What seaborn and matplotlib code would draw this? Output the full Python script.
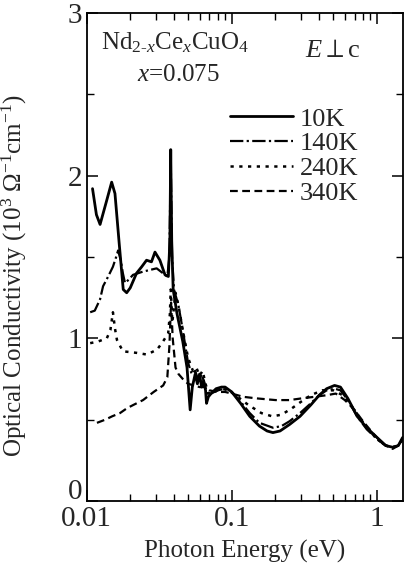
import matplotlib
matplotlib.use("Agg")
import matplotlib.pyplot as plt
import matplotlib.transforms as mtransforms
import seaborn as sns
import pandas as pd
from matplotlib.lines import Line2D
from matplotlib.ticker import FixedLocator, NullFormatter, LogLocator

# Optical conductivity spectra of Nd2-xCexCuO4 (x = 0.075), E perpendicular to c
e_10k = [0.0110, 0.0117, 0.0124, 0.0137, 0.0149, 0.0157, 0.0168, 0.0179, 0.0189, 0.0200,
         0.0221, 0.0240, 0.0259, 0.0280, 0.0296, 0.0320, 0.0347, 0.0366, 0.0375, 0.0380,
         0.0386, 0.0395, 0.0420, 0.0460, 0.0492, 0.0517, 0.0535, 0.0560, 0.0580, 0.0600,
         0.0620, 0.0640, 0.0660, 0.0670, 0.0690, 0.0720, 0.0780, 0.0850, 0.0900, 0.100,
         0.115, 0.133, 0.155, 0.175, 0.192, 0.215, 0.250, 0.295, 0.350, 0.400, 0.450,
         0.510, 0.560, 0.630, 0.730, 0.850, 1.00, 1.15, 1.28, 1.40, 1.50]
s_10k = [1.92, 1.76, 1.70, 1.84, 1.96, 1.89, 1.58, 1.30, 1.28, 1.31,
         1.40, 1.44, 1.48, 1.47, 1.53, 1.48, 1.39, 1.38, 1.60, 2.16,
         1.60, 1.30, 1.15, 0.98, 0.82, 0.56, 0.70, 0.78, 0.72, 0.78,
         0.70, 0.74, 0.68, 0.60, 0.64, 0.66, 0.69, 0.70, 0.70, 0.67,
         0.60, 0.52, 0.46, 0.43, 0.42, 0.43, 0.47, 0.52, 0.59, 0.65, 0.69,
         0.71, 0.70, 0.63, 0.52, 0.45, 0.39, 0.34, 0.33, 0.34, 0.39]

e_140k = [0.0106, 0.0114, 0.0124, 0.0130, 0.0141, 0.0152, 0.0160, 0.0165, 0.0172, 0.0178,
          0.0184, 0.0195, 0.0209, 0.0245, 0.0304, 0.0336, 0.0360, 0.0372, 0.0380, 0.0388,
          0.0400, 0.0430, 0.0460, 0.0500, 0.0530, 0.0560, 0.0590, 0.0620, 0.0650, 0.0680,
          0.0720, 0.0800, 0.0900, 0.100, 0.115, 0.133, 0.155, 0.192, 0.220, 0.250, 0.295,
          0.350, 0.400, 0.450, 0.510, 0.560, 0.630, 0.730, 0.850, 1.00, 1.15, 1.28, 1.40, 1.50]
s_140k = [1.16, 1.17, 1.24, 1.32, 1.38, 1.44, 1.50, 1.54, 1.48, 1.40,
          1.34, 1.36, 1.39, 1.41, 1.43, 1.40, 1.38, 1.50, 2.10, 1.50,
          1.30, 1.20, 1.05, 0.85, 0.78, 0.80, 0.74, 0.78, 0.72, 0.65,
          0.66, 0.68, 0.69, 0.67, 0.61, 0.54, 0.48, 0.45, 0.46, 0.49, 0.54,
          0.60, 0.65, 0.68, 0.69, 0.68, 0.62, 0.52, 0.44, 0.38, 0.34, 0.33, 0.34, 0.38]

e_240k = [0.0106, 0.0120, 0.0138, 0.0146, 0.0152, 0.0157, 0.0162, 0.0178, 0.0223, 0.0260,
          0.0306, 0.0336, 0.0365, 0.0375, 0.0380, 0.0390, 0.0410, 0.0430, 0.0460, 0.0500,
          0.0540, 0.0570, 0.0600, 0.0630, 0.0660, 0.0690, 0.0750, 0.0850, 0.0950, 0.110,
          0.130, 0.160, 0.190, 0.220, 0.260, 0.300, 0.350, 0.420, 0.500, 0.580, 0.660,
          0.750, 0.850, 1.00, 1.15, 1.28, 1.40, 1.50]
s_240k = [0.97, 0.98, 1.00, 1.05, 1.16, 1.06, 0.99, 0.92, 0.91, 0.90,
          0.93, 0.98, 1.03, 1.15, 1.30, 1.10, 1.28, 1.20, 1.05, 0.88,
          0.80, 0.82, 0.77, 0.80, 0.72, 0.66, 0.67, 0.69, 0.68, 0.64,
          0.59, 0.54, 0.52, 0.53, 0.57, 0.61, 0.65, 0.68, 0.68, 0.65, 0.59,
          0.52, 0.45, 0.38, 0.34, 0.33, 0.34, 0.38]

e_340k = [0.0118, 0.0135, 0.0150, 0.0170, 0.0190, 0.0210, 0.0245, 0.0290, 0.0337, 0.0360,
          0.0372, 0.0382, 0.0392, 0.0410, 0.0430, 0.0460, 0.0500, 0.0550, 0.0600, 0.0650,
          0.0700, 0.0800, 0.0900, 0.100, 0.120, 0.150, 0.200, 0.250, 0.300, 0.370, 0.450,
          0.520, 0.600, 0.700, 0.800, 0.950, 1.10, 1.28, 1.40, 1.50]
s_340k = [0.48, 0.50, 0.52, 0.54, 0.57, 0.59, 0.62, 0.67, 0.71, 0.76,
          0.95, 1.22, 1.00, 0.82, 0.78, 0.75, 0.72, 0.71, 0.70, 0.70,
          0.68, 0.67, 0.67, 0.66, 0.64, 0.63, 0.62, 0.62, 0.63, 0.64, 0.65,
          0.66, 0.62, 0.56, 0.49, 0.41, 0.35, 0.32, 0.34, 0.38]

labels = ["10K", "140K", "240K", "340K"]
styles = {
    "10K": dict(linestyle="-", linewidth=2.0),
    "140K": dict(linestyle=(0, (6, 1.5, 1, 1.5)), linewidth=1.6),
    "240K": dict(linestyle=(0, (1.3, 2.2)), linewidth=1.8),
    "340K": dict(linestyle=(0, (3.5, 2)), linewidth=1.6),
}

frames = []
for lab, e, s in zip(labels, [e_10k, e_140k, e_240k, e_340k], [s_10k, s_140k, s_240k, s_340k]):
    frames.append(pd.DataFrame({"energy": e, "sigma": s, "temp": lab}))
df = pd.concat(frames, ignore_index=True)

sns.set_style("ticks")
plt.rcParams["font.family"] = ["Liberation Serif", "DejaVu Serif"]
plt.rcParams["mathtext.fontset"] = "custom"
plt.rcParams["mathtext.rm"] = "Liberation Serif"
plt.rcParams["mathtext.it"] = "Liberation Serif:italic"
plt.rcParams["mathtext.bf"] = "Liberation Serif:bold"

fig = plt.figure(figsize=(4.10, 5.66), dpi=100)
ax = fig.add_axes([0.211, 0.115, 0.772, 0.862])

for lab in labels:
    sub = df[df["temp"] == lab]
    sns.lineplot(data=sub, x="energy", y="sigma", ax=ax, color="black",
                 estimator=None, sort=False, legend=False, **styles[lab])

ax.set_xscale("log")
ax.set_xlim(0.01, 1.51)
ax.set_ylim(0, 3)

ax.set_yticks([0, 1, 2, 3])
ax.yaxis.set_minor_locator(FixedLocator([0.5, 1.5, 2.5]))
ax.xaxis.set_major_locator(FixedLocator([0.01, 0.1, 1]))
ax.xaxis.set_minor_locator(LogLocator(base=10, subs=range(2, 10)))
ax.xaxis.set_minor_formatter(NullFormatter())
ax.set_xticklabels(["0.01", "0.1", "1"])
ax.set_yticklabels(["0", "1", "2", "3"])

ax.tick_params(which="both", direction="in", top=True, right=True, color="black")
ax.tick_params(which="major", length=8, width=1.1, labelsize=21, pad=3)
ax.tick_params(which="minor", length=5, width=1.0)
for sp in ax.spines.values():
    sp.set_linewidth(1.3)
    sp.set_color("black")

# lift the "0" label clear of the "0.01" label below it
zero_label = ax.get_yticklabels()[0]
zero_label.set_transform(zero_label.get_transform() +
                         mtransforms.ScaledTranslation(0, 12 / 100, fig.dpi_scale_trans))
ax.tick_params(axis="x", which="major", pad=4)

ax.set_xlabel("Photon Energy (eV)", fontsize=18, labelpad=5)
ax.set_ylabel(r"Optical Conductivity (10$^3$ $\Omega^{-1}$cm$^{-1}$)", fontsize=18)
ax.yaxis.set_label_coords(-0.182, 0.463)

ax.text(0.045, 0.94, r"Nd$_{2\text{-}x}$Ce$_x$CuO$_4$", transform=ax.transAxes,
        fontsize=18, ha="left", va="center")
ax.text(0.16, 0.873, r"$x$=0.075", transform=ax.transAxes,
        fontsize=18, ha="left", va="center")
ax.text(0.69, 0.922, r"$E$$\perp$c", transform=ax.transAxes,
        fontsize=19, ha="left", va="center")

handles = [Line2D([], [], color="black", **styles[lab]) for lab in labels]
ax.legend(handles, labels, loc="upper left", bbox_to_anchor=(0.395, 0.845),
          frameon=False, fontsize=19, handlelength=2.4, handletextpad=0.25,
          labelspacing=0.05, borderpad=0.2)

fig.savefig("out.png", dpi=100)
